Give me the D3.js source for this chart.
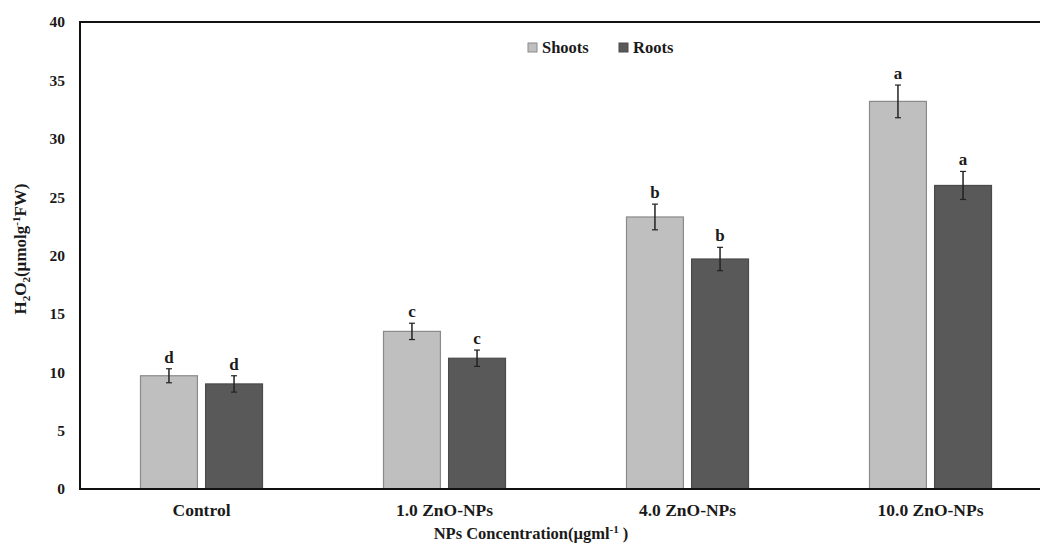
<!DOCTYPE html>
<html><head><meta charset="utf-8">
<script src="https://cdn.jsdelivr.net/npm/d3@7"></script>
<style>
body{margin:0;background:#fff;}
svg{display:block;}
svg text{font-family:"Liberation Serif","Tinos","Times New Roman",serif !important;font-weight:bold;}
</style></head>
<body><svg id="c" width="1040" height="546"></svg>
<script>
const categories = ["Control", "1.0 ZnO-NPs", "4.0 ZnO-NPs", "10.0 ZnO-NPs"];
const seriesNames = ["Shoots", "Roots"];
const shoots = [9.7, 13.5, 23.3, 33.2];
const roots = [9.0, 11.2, 19.7, 26.0];
const shootsErr = [0.6, 0.7, 1.1, 1.4];
const rootsErr = [0.7, 0.7, 1.0, 1.2];
const shootsLetters = ["d", "c", "b", "a"];
const rootsLetters = ["d", "c", "b", "a"];
const yTicks = [0, 5, 10, 15, 20, 25, 30, 35, 40];

const svg = d3.select("#c");
const m = {l: 80, t: 22, r: 1052, b: 489};
const x0 = d3.scaleBand().domain(categories).range([m.l, m.r]).paddingInner(0).paddingOuter(0);
const x1 = d3.scaleBand().domain(seriesNames).range([60, x0.bandwidth() - 60]).paddingInner(0.11);
const y = d3.scaleLinear().domain([0, 40]).range([m.b, m.t]);
const fills = {Shoots: "#bfbfbf", Roots: "#595959"};
const strokes = {Shoots: "#8a8a8a", Roots: "#4a4a4a"};
const textCol = "#1a1a1a";

const data = categories.map((c, i) => ({
  cat: c,
  vals: [
    {s: "Shoots", v: shoots[i], e: shootsErr[i], l: shootsLetters[i]},
    {s: "Roots", v: roots[i], e: rootsErr[i], l: rootsLetters[i]}
  ]
}));

// Y axis
const yAxis = d3.axisLeft(y).tickValues(yTicks).tickSize(0).tickPadding(15);
const gy = svg.append("g").attr("transform", `translate(${m.l},0)`).call(yAxis);
gy.select(".domain").remove();
gy.attr("font-family", null).attr("font-size", null);
gy.selectAll("text").attr("font-size", 15.5).attr("fill", textCol);

const groups = svg.append("g").selectAll("g").data(data).join("g")
  .attr("transform", d => `translate(${x0(d.cat)},0)`);

groups.selectAll("rect").data(d => d.vals).join("rect")
  .attr("x", d => x1(d.s) + 0.5)
  .attr("y", d => y(d.v))
  .attr("width", x1.bandwidth() - 1)
  .attr("height", d => y(0) - y(d.v))
  .attr("fill", d => fills[d.s])
  .attr("stroke", d => strokes[d.s])
  .attr("stroke-width", 1.2);

const eb = groups.selectAll("g.eb").data(d => d.vals).join("g").attr("class", "eb");
eb.append("line")
  .attr("x1", d => x1(d.s) + x1.bandwidth() / 2).attr("x2", d => x1(d.s) + x1.bandwidth() / 2)
  .attr("y1", d => y(d.v + d.e)).attr("y2", d => y(d.v - d.e))
  .attr("stroke", "#222").attr("stroke-width", 1.5);
eb.selectAll("line.cap").data(d => [d.v + d.e, d.v - d.e].map(v => ({s: d.s, v}))).join("line").attr("class", "cap")
  .attr("x1", d => x1(d.s) + x1.bandwidth() / 2 - 3).attr("x2", d => x1(d.s) + x1.bandwidth() / 2 + 3)
  .attr("y1", d => y(d.v)).attr("y2", d => y(d.v))
  .attr("stroke", "#222").attr("stroke-width", 1.2);
eb.append("text")
  .attr("x", d => x1(d.s) + x1.bandwidth() / 2)
  .attr("y", d => y(d.v + d.e) - 6)
  .attr("text-anchor", "middle").attr("font-size", 17).attr("fill", textCol)
  .text(d => d.l);

// Frame lines
svg.append("line").attr("x1", m.l).attr("x2", m.l).attr("y1", m.t).attr("y2", m.b).attr("stroke", "#111").attr("stroke-width", 2);
svg.append("line").attr("x1", m.l - 1).attr("x2", 1040).attr("y1", m.b).attr("y2", m.b).attr("stroke", "#111").attr("stroke-width", 2);
svg.append("line").attr("x1", m.l - 1).attr("x2", 1040).attr("y1", m.t).attr("y2", m.t).attr("stroke", "#111").attr("stroke-width", 2);

// X axis labels
const xAxis = d3.axisBottom(x0).tickSize(0).tickPadding(15);
const gx = svg.append("g").attr("transform", `translate(0,${m.b})`).call(xAxis);
gx.select(".domain").remove();
gx.attr("font-family", null).attr("font-size", null);
gx.selectAll("text").attr("font-size", 17.5).attr("fill", textCol);

// X title
const xt = svg.append("text").attr("x", 531).attr("y", 539).attr("text-anchor", "middle").attr("font-size", 16.5).attr("fill", textCol);
xt.append("tspan").text("NPs Concentration(µgml");
xt.append("tspan").attr("dy", -6).attr("font-size", 11).text("-1");
xt.append("tspan").attr("dy", 6).text(" )");

// Y title
const yt = svg.append("text").attr("transform", "translate(26,249) rotate(-90)").attr("text-anchor", "middle").attr("font-size", 17).attr("fill", textCol);
yt.append("tspan").text("H");
yt.append("tspan").attr("dy", 4).attr("font-size", 11).text("2");
yt.append("tspan").attr("dy", -4).text("O");
yt.append("tspan").attr("dy", 4).attr("font-size", 11).text("2");
yt.append("tspan").attr("dy", -4).text("(µmolg");
yt.append("tspan").attr("dy", -6).attr("font-size", 11).text("-1");
yt.append("tspan").attr("dy", 6).text("FW)");

// Legend
const lg = svg.append("g").selectAll("g").data(seriesNames).join("g")
  .attr("transform", (d, i) => `translate(${[528, 619][i]},43)`);
lg.append("rect").attr("width", 9).attr("height", 9).attr("fill", d => fills[d]).attr("stroke", d => strokes[d]);
lg.append("text").attr("x", 14).attr("y", 10).attr("font-size", 16.5).attr("fill", textCol).text(d => d);
</script></body></html>
